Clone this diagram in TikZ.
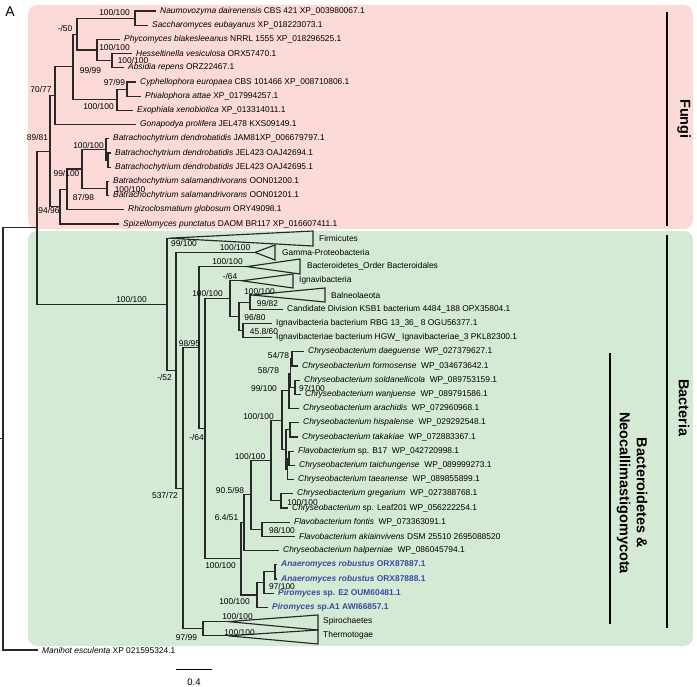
\documentclass[tikz,border=0pt]{standalone}
\usepackage{fontspec}
\setmainfont{Liberation Sans}
\definecolor{pinkbg}{RGB}{251,218,216}
\definecolor{greenbg}{RGB}{213,234,213}
\definecolor{branch}{RGB}{40,40,40}
\definecolor{neoblue}{RGB}{58,76,160}
\begin{document}
\begin{tikzpicture}[x=1pt,y=-1pt,
  br/.style={draw=branch,line width=1.15pt},
  tri/.style={draw=branch,line width=1.15pt,line join=miter},
  leaf/.style={anchor=west,inner sep=0pt,font=\fontsize{8.4}{10}\selectfont,xshift=4pt},
  nleaf/.style={anchor=west,inner sep=0pt,font=\fontsize{8.4}{10}\selectfont\bfseries,text=neoblue,xshift=4pt},
  blab/.style={inner sep=0pt,font=\fontsize{8.4}{10}\selectfont},
  grp/.style={inner sep=0pt,font=\fontsize{14.5}{17}\selectfont\bfseries,rotate=-90,align=center},
  bar/.style={draw=black,line width=2.4pt}]
\useasboundingbox (0,0) rectangle (697,687);
\fill[pinkbg,rounded corners=9pt] (28,5) rectangle (693,229);
\fill[greenbg,rounded corners=9pt] (28,231) rectangle (693,646);
\node[inner sep=0pt,font=\fontsize{14}{16}\selectfont] (panel) at (10,12) {A};
% leaf end coordinates
\coordinate (L1) at (156,11.0);
\coordinate (L2) at (148,25.2);
\coordinate (L3) at (120,39.4);
\coordinate (L4) at (132,53.6);
\coordinate (L5) at (124,67.8);
\coordinate (L6) at (136,82.0);
\coordinate (L7) at (141,96.2);
\coordinate (L8) at (133,110.4);
\coordinate (L9) at (136,124.6);
\coordinate (L10) at (109,138.8);
\coordinate (L11) at (111,153.0);
\coordinate (L12) at (111,167.2);
\coordinate (L13) at (109,181.4);
\coordinate (L14) at (109,195.6);
\coordinate (L15) at (124,209.8);
\coordinate (L16) at (119,224.0);
\coordinate (L22) at (283,309.2);
\coordinate (L23) at (272,323.4);
\coordinate (L24) at (272,337.6);
\coordinate (L25) at (304,351.8);
\coordinate (L26) at (298,366.0);
\coordinate (L27) at (300,380.2);
\coordinate (L28) at (301,394.4);
\coordinate (L29) at (299,408.6);
\coordinate (L30) at (299,422.8);
\coordinate (L31) at (298,437.0);
\coordinate (L32) at (294,451.2);
\coordinate (L33) at (295,465.4);
\coordinate (L34) at (294,479.6);
\coordinate (L35) at (293,493.8);
\coordinate (L36) at (288,508.0);
\coordinate (L37) at (290,522.2);
\coordinate (L38) at (295,536.4);
\coordinate (L39) at (279,550.6);
\coordinate (L40) at (277,564.8);
\coordinate (L41) at (277,579.0);
\coordinate (L42) at (274,593.2);
\coordinate (L43) at (268,607.4);
\coordinate (L46) at (38,650.0);
% internal nodes
\coordinate (A1) at (135,18.1);
\coordinate (A4) at (112,60.7);
\coordinate (A3) at (97,50.05);
\coordinate (A2) at (77,34.1);
\coordinate (A5) at (127,89.1);
\coordinate (A6) at (117,99.75);
\coordinate (A7) at (73,66.9);
\coordinate (F1) at (55,95.75);
\coordinate (F6b) at (108,160.1);
\coordinate (F6) at (106,149.45);
\coordinate (F7) at (107,188.5);
\coordinate (F5) at (82,169.0);
\coordinate (F4) at (67,189.4);
\coordinate (F3) at (60,206.7);
\coordinate (F2) at (50,151.2);
\coordinate (R1) at (37,227.7);
\coordinate (Root) at (3,438.85);
\coordinate (RootT) at (0,438.85);
\coordinate (FA) at (169,238.2);
\coordinate (GA) at (255,252.4);
\coordinate (BA) at (247,266.6);
\coordinate (IA) at (242,280.8);
\coordinate (BLA) at (252,295.0);
\coordinate (SA) at (228,621.6);
\coordinate (TA) at (228,635.8);
\coordinate (B9) at (243,330.5);
\coordinate (B8) at (250,302.1);
\coordinate (B7) at (239,316.3);
\coordinate (B6) at (230,298.55);
\coordinate (C11) at (292,358.9);
\coordinate (C12) at (295,387.3);
\coordinate (C10) at (290.5,373.1);
\coordinate (C8) at (289,390.85);
\coordinate (C13) at (290,429.9);
\coordinate (C14) at (289,458.3);
\coordinate (C15) at (287.5,468.95);
\coordinate (C9) at (286,449.4);
\coordinate (C6) at (282,420.1);
\coordinate (C7) at (281,500.9);
\coordinate (C4) at (271,460.5);
\coordinate (C5) at (262,529.3);
\coordinate (C3) at (251,494.9);
\coordinate (C2) at (244,522.75);
\coordinate (N3) at (275,571.9);
\coordinate (N2) at (264,582.55);
\coordinate (N1) at (257,595.0);
\coordinate (C1) at (241,558.9);
\coordinate (B5) at (205,428.7);
\coordinate (B4) at (199,347.65);
\coordinate (D1) at (203,628.7);
\coordinate (B3) at (183,488.2);
\coordinate (B2) at (176,370.3);
\coordinate (B1) at (167,304.25);
% triangle corners
\coordinate (FAt) at (313,231); \coordinate (FAb) at (313,246);
\coordinate (GAt) at (275,245); \coordinate (GAb) at (275,260);
\coordinate (BAt) at (300,259); \coordinate (BAb) at (300,274);
\coordinate (IAt) at (293,274); \coordinate (IAb) at (293,288);
\coordinate (BLAt) at (325,288); \coordinate (BLAb) at (325,302);
\coordinate (SAt) at (318,615); \coordinate (SAb) at (318,630);
\coordinate (TAt) at (318,630); \coordinate (TAb) at (318,644);
% branches
\draw[br] (A1) |- (L1); \draw[br] (A1) |- (L2);
\draw[br] (A4) |- (L4); \draw[br] (A4) |- (L5);
\draw[br] (A3) |- (L3); \draw[br] (A3) |- (A4);
\draw[br] (A2) |- (A1); \draw[br] (A2) |- (A3);
\draw[br] (A5) |- (L6); \draw[br] (A5) |- (L7);
\draw[br] (A6) |- (A5); \draw[br] (A6) |- (L8);
\draw[br] (A7) |- (A2); \draw[br] (A7) |- (A6);
\draw[br] (F1) |- (A7); \draw[br] (F1) |- (L9);
\draw[br] (F6b) |- (L11); \draw[br] (F6b) |- (L12);
\draw[br] (F6) |- (L10); \draw[br] (F6) |- (F6b);
\draw[br] (F7) |- (L13); \draw[br] (F7) |- (L14);
\draw[br] (F5) |- (F6); \draw[br] (F5) |- (F7);
\draw[br] (F4) |- (F5); \draw[br] (F4) |- (L15);
\draw[br] (F3) |- (F4); \draw[br] (F3) |- (L16);
\draw[br] (F2) |- (F1); \draw[br] (F2) |- (F3);
\draw[br] (R1) |- (F2); \draw[br] (R1) |- (B1);
\draw[br] (Root) |- (R1); \draw[br] (Root) |- (L46);
\draw[br] (RootT) -- (Root);
\draw[br] (B1) |- (FA); \draw[br] (B1) |- (B2);
\draw[br] (B2) |- (GA); \draw[br] (B2) |- (B3);
\draw[br] (B3) |- (B4); \draw[br] (B3) |- (D1);
\draw[br] (B4) |- (BA); \draw[br] (B4) |- (B5);
\draw[br] (B5) |- (B6); \draw[br] (B5) |- (C1);
\draw[br] (B6) |- (IA); \draw[br] (B6) |- (B7);
\draw[br] (B7) |- (B8); \draw[br] (B7) |- (B9);
\draw[br] (B8) |- (BLA); \draw[br] (B8) |- (L22);
\draw[br] (B9) |- (L23); \draw[br] (B9) |- (L24);
\draw[br] (C1) |- (C2); \draw[br] (C1) |- (N1);
\draw[br] (C2) |- (C3); \draw[br] (C2) |- (L39);
\draw[br] (C3) |- (C4); \draw[br] (C3) |- (C5);
\draw[br] (C4) |- (C6); \draw[br] (C4) |- (C7);
\draw[br] (C6) |- (C8); \draw[br] (C6) |- (C9);
\draw[br] (C8) |- (C10); \draw[br] (C8) |- (L29);
\draw[br] (C10) |- (C11); \draw[br] (C10) |- (C12);
\draw[br] (C11) |- (L25); \draw[br] (C11) |- (L26);
\draw[br] (C12) |- (L27); \draw[br] (C12) |- (L28);
\draw[br] (C9) |- (C13); \draw[br] (C9) |- (C15);
\draw[br] (C13) |- (L30); \draw[br] (C13) |- (L31);
\draw[br] (C15) |- (C14); \draw[br] (C15) |- (L34);
\draw[br] (C14) |- (L32); \draw[br] (C14) |- (L33);
\draw[br] (C7) |- (L35); \draw[br] (C7) |- (L36);
\draw[br] (C5) |- (L37); \draw[br] (C5) |- (L38);
\draw[br] (N1) |- (N2); \draw[br] (N1) |- (L43);
\draw[br] (N2) |- (N3); \draw[br] (N2) |- (L42);
\draw[br] (N3) |- (L40); \draw[br] (N3) |- (L41);
\draw[br] (D1) |- (SA); \draw[br] (D1) |- (TA);
% collapsed clades
\draw[tri] (FA) -- (FAt) -- (FAb) -- cycle;
\draw[tri] (GA) -- (GAt) -- (GAb) -- cycle;
\draw[tri] (BA) -- (BAt) -- (BAb) -- cycle;
\draw[tri] (IA) -- (IAt) -- (IAb) -- cycle;
\draw[tri] (BLA) -- (BLAt) -- (BLAb) -- cycle;
\draw[tri] (SA) -- (SAt) -- (SAb) -- cycle;
\draw[tri] (TA) -- (TAt) -- (TAb) -- cycle;
% leaf labels
\node[leaf] (T1) at (L1) {\textit{Naumovozyma dairenensis} CBS 421 XP\_003980067.1};
\node[leaf] (T2) at (L2) {\textit{Saccharomyces eubayanus} XP\_018223073.1};
\node[leaf] (T3) at (L3) {\textit{Phycomyces blakesleeanus} NRRL 1555 XP\_018296525.1};
\node[leaf] (T4) at (L4) {\textit{Hesseltinella vesiculosa} ORX57470.1};
\node[leaf] (T5) at (L5) {\textit{Absidia repens} ORZ22467.1};
\node[leaf] (T6) at (L6) {\textit{Cyphellophora europaea} CBS 101466 XP\_008710806.1};
\node[leaf] (T7) at (L7) {\textit{Phialophora attae} XP\_017994257.1};
\node[leaf] (T8) at (L8) {\textit{Exophiala xenobiotica} XP\_013314011.1};
\node[leaf] (T9) at (L9) {\textit{Gonapodya prolifera} JEL478 KXS09149.1};
\node[leaf] (T10) at (L10) {\textit{Batrachochytrium dendrobatidis} JAM81XP\_006679797.1};
\node[leaf] (T11) at (L11) {\textit{Batrachochytrium dendrobatidis} JEL423 OAJ42694.1};
\node[leaf] (T12) at (L12) {\textit{Batrachochytrium dendrobatidis} JEL423 OAJ42695.1};
\node[leaf] (T13) at (L13) {\textit{Batrachochytrium salamandrivorans} OON01200.1};
\node[leaf] (T14) at (L14) {\textit{Batrachochytrium salamandrivorans} OON01201.1};
\node[leaf] (T15) at (L15) {\textit{Rhizoclosmatium globosum} ORY49098.1};
\node[leaf] (T16) at (L16) {\textit{Spizellomyces punctatus} DAOM BR117 XP\_016607411.1};
\node[leaf,xshift=2pt] (T17) at (313,238.2) {Firmicutes};
\node[leaf,xshift=3pt] (T18) at (275,252.4) {Gamma-Proteobacteria};
\node[leaf,xshift=3pt] (T19) at (300,266.6) {Bacteroidetes\_Order Bacteroidales};
\node[leaf,xshift=2pt] (T20) at (293,280.8) {Ignavibacteria};
\node[leaf,xshift=2pt] (T21) at (325,295.0) {Balneolaeota};
\node[leaf] (T22) at (L22) {Candidate Division KSB1 bacterium 4484\_188 OPX35804.1};
\node[leaf] (T23) at (L23) {Ignavibacteria bacterium RBG 13\_36\_ 8 OGU56377.1};
\node[leaf] (T24) at (L24) {Ignavibacteriae bacterium HGW\_ Ignavibacteriae\_3 PKL82300.1};
\node[leaf] (T25) at (L25) {\textit{Chryseobacterium daeguense}\ \ WP\_027379627.1};
\node[leaf] (T26) at (L26) {\textit{Chryseobacterium formosense}\ \ WP\_034673642.1};
\node[leaf] (T27) at (L27) {\textit{Chryseobacterium soldanellicola}\ \ WP\_089753159.1};
\node[leaf] (T28) at (L28) {\textit{Chryseobacterium wanjuense}\ \ WP\_089791586.1};
\node[leaf] (T29) at (L29) {\textit{Chryseobacterium arachidis}\ \ WP\_072960968.1};
\node[leaf] (T30) at (L30) {\textit{Chryseobacterium hispalense}\ \ WP\_029292548.1};
\node[leaf] (T31) at (L31) {\textit{Chryseobacterium takakiae}\ \ WP\_072883367.1};
\node[leaf] (T32) at (L32) {\textit{Flavobacterium} sp. B17\ \ WP\_042720998.1};
\node[leaf] (T33) at (L33) {\textit{Chryseobacterium taichungense}\ \ WP\_089999273.1};
\node[leaf] (T34) at (L34) {\textit{Chryseobacterium taeanense}\ \ WP\_089855899.1};
\node[leaf] (T35) at (L35) {\textit{Chryseobacterium gregarium}\ \ WP\_027388768.1};
\node[leaf] (T36) at (L36) {\textit{Chryseobacterium} sp. Leaf201 WP\_056222254.1};
\node[leaf] (T37) at (L37) {\textit{Flavobacterium fontis}\ \ WP\_073363091.1};
\node[leaf] (T38) at (L38) {\textit{Flavobacterium akiainvivens} DSM 25510 2695088520};
\node[leaf] (T39) at (L39) {\textit{Chryseobacterium halperniae}\ \ WP\_086045794.1};
\node[nleaf] (T40) at (L40) {\textit{Anaeromyces robustus} ORX87887.1};
\node[nleaf] (T41) at (L41) {\textit{Anaeromyces robustus} ORX87888.1};
\node[nleaf] (T42) at (L42) {\textit{Piromyces} sp. E2 OUM60481.1};
\node[nleaf] (T43) at (L43) {\textit{Piromyces} sp.A1 AWI66857.1};
\node[leaf,xshift=1pt] (T44) at (318,621.6) {Spirochaetes};
\node[leaf,xshift=1pt] (T45) at (318,635.8) {Thermotogae};
\node[leaf] (T46) at (L46) {\textit{Manihot esculenta} XP 021595324.1};
% support values
\node[blab] (s1) at (114.5,13) {100/100};
\node[blab] (s2) at (65,29) {-/50};
\node[blab] (s3) at (114.5,48) {100/100};
\node[blab] (s4) at (133,60) {100/100};
\node[blab] (s5) at (90.5,70) {99/99};
\node[blab] (s6) at (114.5,83) {97/99};
\node[blab] (s7) at (98.5,106) {100/100};
\node[blab] (s8) at (41,90) {70/77};
\node[blab] (s9) at (37.5,137) {89/81};
\node[blab] (s10) at (88.5,145) {100/100};
\node[blab] (s11) at (66.5,173) {99/100};
\node[blab] (s12) at (130,189) {100/100};
\node[blab] (s13) at (83.5,197) {87/98};
\node[blab] (s14) at (49,210) {94/96};
\node[blab] (s15) at (131.5,299) {100/100};
\node[blab] (s16) at (184,243) {99/100};
\node[blab] (s17) at (235,247) {100/100};
\node[blab] (s18) at (227.5,261) {100/100};
\node[blab] (s19) at (230,276) {-/64};
\node[blab] (s20) at (207.5,293) {100/100};
\node[blab] (s21) at (259.5,291) {100/100};
\node[blab] (s22) at (267.5,303) {99/82};
\node[blab] (s23) at (255,317) {96/80};
\node[blab] (s24) at (264,331) {45.8/60};
\node[blab] (s25) at (189.5,343) {98/95};
\node[blab] (s26) at (164.5,377) {-/52};
\node[blab] (s27) at (196.5,437) {-/64};
\node[blab] (s28) at (165,495) {537/72};
\node[blab] (s29) at (278.5,355) {54/78};
\node[blab] (s30) at (268.5,370) {58/78};
\node[blab] (s31) at (264,388) {99/100};
\node[blab] (s32) at (312,388) {97/100};
\node[blab] (s33) at (258.5,416) {100/100};
\node[blab] (s34) at (250,456) {100/100};
\node[blab] (s35) at (230,490) {90.5/98};
\node[blab] (s36) at (302.5,502) {100/100};
\node[blab] (s37) at (226.5,517) {6.4/51};
\node[blab] (s38) at (282,530) {98/100};
\node[blab] (s39) at (220.5,565) {100/100};
\node[blab] (s40) at (282,586) {97/100};
\node[blab] (s41) at (234.5,601) {100/100};
\node[blab] (s42) at (237.5,616) {100/100};
\node[blab] (s43) at (239.5,632) {100/100};
\node[blab] (s44) at (186.5,637) {97/99};
% group bars and labels
\coordinate (fb1) at (667,12); \coordinate (fb2) at (667,226);
\coordinate (bb1) at (667,235); \coordinate (bb2) at (667,628);
\coordinate (nb1) at (610,353); \coordinate (nb2) at (610,624);
\draw[bar] (fb1) -- (fb2);
\draw[bar] (bb1) -- (bb2);
\draw[bar] (nb1) -- (nb2);
\node[grp] (gF) at (684,119) {Fungi};
\node[grp] (gB) at (684,408) {Bacteria};
\node[grp] (gN) at (632,493) {Bacteroidetes \&\\Neocallimastigomycota};
% scale bar
\coordinate (sc1) at (176,669); \coordinate (sc2) at (212,669);
\draw[line width=1pt,black] (sc1) -- (sc2);
\node[blab,font=\fontsize{9.5}{11}\selectfont] (sclab) at (194,682) {0.4};
\end{tikzpicture}
\end{document}
